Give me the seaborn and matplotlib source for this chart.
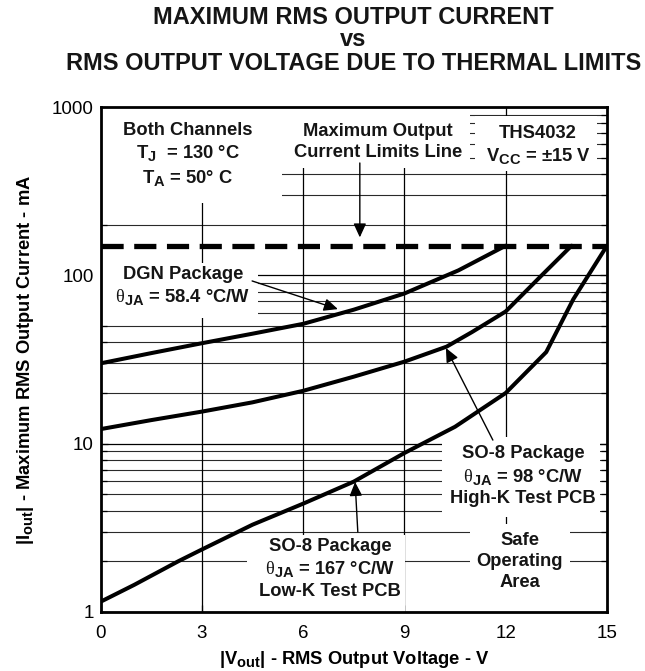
import matplotlib
matplotlib.use("Agg")
import matplotlib.pyplot as plt
import matplotlib.ticker as mticker
from matplotlib import font_manager as fm
from matplotlib.patches import Rectangle
import numpy as np
import pandas as pd
import seaborn as sns

try:
    import matplotlib._mathtext as _mt
    _mt.SHRINK_FACTOR = 0.8
except Exception:
    pass

# ---------------- data ----------------
voltage_dgn = [0, 1.5, 3, 4.5, 6, 7.5, 9, 10.6, 12]
current_dgn = [30, 34.5, 39.5, 45, 51.5, 62.5, 78, 107, 150]

voltage_so8_hk = [0, 1.5, 3, 4.5, 6, 7.5, 9, 10.25, 11, 12, 13, 13.95]
current_so8_hk = [12.2, 13.8, 15.5, 17.6, 20.6, 25, 30.7, 37.7, 46, 61, 97, 150]

voltage_so8_lk = [0, 1, 2.3, 3, 4.5, 6, 7.5, 9, 10.5, 12, 13.2, 14, 15]
current_so8_lk = [1.15, 1.45, 2, 2.35, 3.3, 4.4, 5.95, 8.8, 12.6, 20, 35, 72, 150]

limit_voltage = [0, 15]
limit_current = [150, 150]

x_ticks = [0, 3, 6, 9, 12, 15]
y_ticks = [1, 10, 100, 1000]
y_ticklabels = ["1", "10", "100", "1000"]

# ---------------- style ----------------
sns.set_theme(style="white")
fams = {f.name for f in fm.fontManager.ttflist}
base = "Liberation Sans" if "Liberation Sans" in fams else "DejaVu Sans"
serif = "Liberation Serif" if "Liberation Serif" in fams else "DejaVu Serif"
plt.rcParams["font.family"] = [base, "DejaVu Sans"]
plt.rcParams["mathtext.fontset"] = "custom"
plt.rcParams["mathtext.rm"] = base
plt.rcParams["mathtext.bf"] = base + ":bold"
plt.rcParams["mathtext.it"] = base + ":italic"
plt.rcParams["mathtext.sf"] = serif

W, H = 645, 671
AX_L, AX_R, AX_T, AX_B = 100.5, 607.0, 107.0, 612.0

fig = plt.figure(figsize=(W / 100, H / 100), dpi=100)
ax = fig.add_axes([AX_L / W, 1 - AX_B / H, (AX_R - AX_L) / W, (AX_B - AX_T) / H])

df = pd.concat([
    pd.DataFrame({"V": voltage_dgn, "I": current_dgn, "pkg": "DGN"}),
    pd.DataFrame({"V": voltage_so8_hk, "I": current_so8_hk, "pkg": "SO8HK"}),
    pd.DataFrame({"V": voltage_so8_lk, "I": current_so8_lk, "pkg": "SO8LK"}),
])

sns.lineplot(data=df, x="V", y="I", hue="pkg", palette=["black"] * 3,
             legend=False, linewidth=2.9, ax=ax, zorder=5,
             estimator=None, solid_joinstyle="round", solid_capstyle="round")
sns.lineplot(x=limit_voltage, y=limit_current, color="black", linewidth=3.8,
             ax=ax, zorder=6, linestyle=(0, (4.2, 2.0)), dash_capstyle="butt")

ax.set_yscale("log")
ax.set_xlim(0, 15)
ax.set_ylim(1, 1000)
ax.set_xticks(x_ticks)
ax.set_xticklabels([str(v) for v in x_ticks])
ax.yaxis.set_major_locator(mticker.FixedLocator(y_ticks))
ax.yaxis.set_major_formatter(mticker.FixedFormatter(y_ticklabels))
ax.yaxis.set_minor_locator(mticker.LogLocator(base=10, subs=np.arange(2, 10)))
ax.yaxis.set_minor_formatter(mticker.NullFormatter())
ax.grid(False)

# grid lines drawn underneath the white label boxes
grid_y = [m * 10.0 ** e for e in range(3) for m in range(1, 10)] + [1000]
for gy in grid_y:
    major = gy in (1, 10, 100, 1000)
    ax.axhline(gy, color="black" if major else "#2a2a2a",
               linewidth=0.9 if major else 0.8, zorder=0.2)
for gx in x_ticks[1:-1]:
    ax.axvline(gx, color="black", linewidth=0.9, zorder=0.2)

# white label backgrounds (pixel boxes of the reference layout)
def white_box(x0, x1, y0, y1):
    fx0 = (x0 - AX_L) / (AX_R - AX_L)
    fx1 = (x1 - AX_L) / (AX_R - AX_L)
    fy0 = (AX_B - y1) / (AX_B - AX_T)
    fy1 = (AX_B - y0) / (AX_B - AX_T)
    ax.add_patch(Rectangle((fx0, fy0), fx1 - fx0, fy1 - fy0, transform=ax.transAxes,
                           facecolor="white", edgecolor="none", zorder=1))

white_box(100, 282, 106, 203)   # Both channels
white_box(282, 470, 106, 168)   # Maximum output
white_box(475, 597, 116, 171)   # THS4032
white_box(100, 258, 263, 318)   # DGN
white_box(442, 600, 437, 517)   # SO-8 98
white_box(470, 570, 524, 612)   # Safe operating area
white_box(247, 405, 535, 612)   # SO-8 167

for s in ax.spines.values():
    s.set_color("black")
    s.set_linewidth(2.0)
    s.set_visible(True)
    s.set_zorder(8)

ax.tick_params(axis="both", which="major", direction="in", length=5, width=0.9,
               labelsize=13.5, color="black", labelcolor="black")
ax.tick_params(axis="y", which="both", left=True, right=True)
ax.tick_params(axis="y", which="minor", direction="in", length=4.5, width=0.9, color="black")
ax.tick_params(axis="x", which="major", bottom=True, pad=9.5)
ax.tick_params(axis="y", which="major", pad=5)

ax.set_xlabel(r"|V$_\mathbf{out}$| - RMS Output Voltage - V", fontsize=13.2,
              fontweight="bold", labelpad=5, color="black")
ax.set_ylabel(r"|I$_\mathbf{out}$| - Maximum RMS Output Current - mA", fontsize=13.2,
              fontweight="bold", labelpad=11, color="black")

tt = dict(ha="center", va="center", fontsize=17, fontweight="bold", color="#151515")
fig.text(0.548, 1 - 17 / H, "MAXIMUM RMS OUTPUT CURRENT", **tt)
fig.text(0.548, 1 - 40 / H, "vs", **tt)
fig.text(0.548, 1 - 63 / H, "RMS OUTPUT VOLTAGE DUE TO THERMAL LIMITS", **tt)

tkw = dict(ha="center", va="center", fontsize=13.2, fontweight="bold", color="#151515",
           zorder=3, linespacing=1.3)

ax.text(2.59, 520, "Both Channels\nT$_\\mathbf{J}$  = 130 °C\nT$_\\mathbf{A}$ = 50° C", **tkw)
ax.text(8.22, 620, "Maximum Output\nCurrent Limits Line", **tkw)
ax.text(12.96, 590, "THS4032\nV$_\\mathbf{CC}$ = ±15 V", **tkw)
ax.text(2.44, 86, "DGN Package\n$\\mathsf{\\theta}_\\mathbf{JA}$ = 58.4 °C/W", **tkw)
ax.text(12.51, 6.4, "SO-8 Package\n$\\mathsf{\\theta}_\\mathbf{JA}$ = 98 °C/W\nHigh-K Test PCB", **tkw)
ax.text(12.42, 2.0, "Safe\nOperating\nArea", **tkw)
ax.text(6.8, 1.8, "SO-8 Package\n$\\mathsf{\\theta}_\\mathbf{JA}$ = 167 °C/W\nLow-K Test PCB", **tkw)

arr = dict(arrowstyle="-|>,head_length=0.7,head_width=0.32", color="black", lw=1.0,
           mutation_scale=12, shrinkA=0, shrinkB=0)
ax.annotate("", xy=(7.68, 168), xytext=(7.68, 465), arrowprops=arr, zorder=7)
ax.annotate("", xy=(7.03, 63), xytext=(4.49, 92.6), arrowprops=arr, zorder=7)
ax.annotate("", xy=(10.23, 37), xytext=(11.62, 10.5), arrowprops=arr, zorder=7)
ax.annotate("", xy=(7.54, 5.92), xytext=(7.62, 2.99), arrowprops=arr, zorder=7)

fig.savefig("out.png", dpi=100, facecolor="white")
